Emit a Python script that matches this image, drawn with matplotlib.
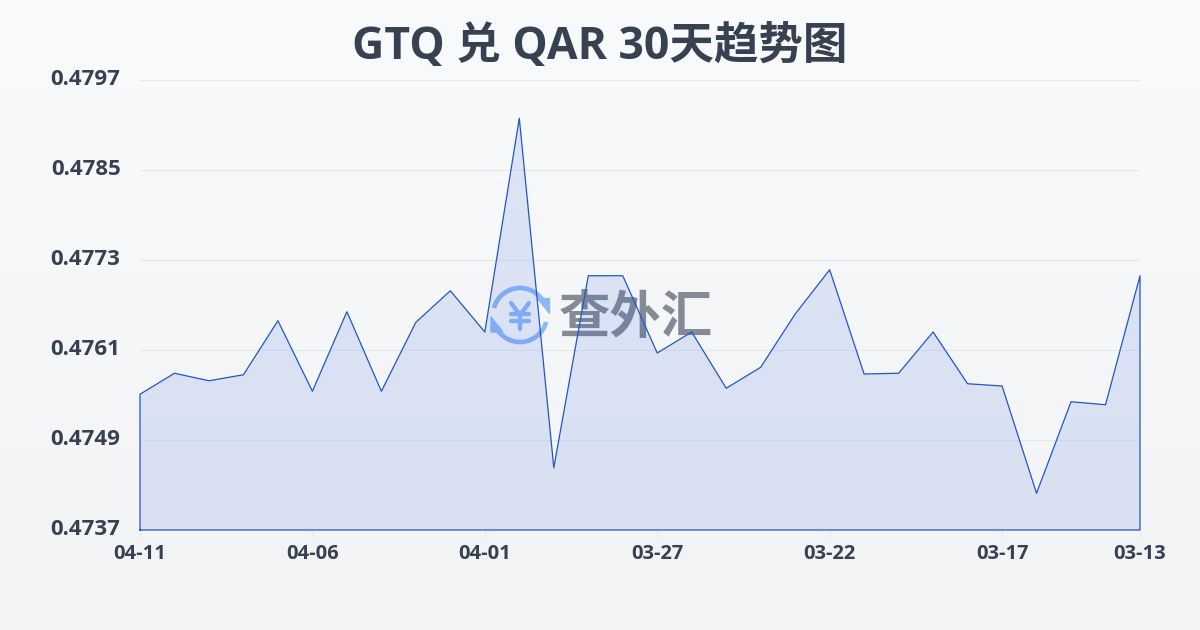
import numpy as np
import matplotlib
matplotlib.use('Agg')
import matplotlib.pyplot as plt
from matplotlib.patches import Arc, Polygon
from matplotlib.transforms import ScaledTranslation

plt.rcParams['font.family'] = ['Open Sans', 'Noto Sans CJK SC', 'DejaVu Sans']

title = 'GTQ 兑 QAR 30天趋势图'
watermark = '查外汇'
dates = ['04-11', '04-10', '04-09', '04-08', '04-07', '04-06', '04-05', '04-04', '04-03', '04-02',
         '04-01', '03-31', '03-30', '03-29', '03-28', '03-27', '03-26', '03-25', '03-24', '03-23',
         '03-22', '03-21', '03-20', '03-19', '03-18', '03-17', '03-16', '03-15', '03-14', '03-13']
rates = [0.47551, 0.47579, 0.47569, 0.47577, 0.47649, 0.47555, 0.47661, 0.47555, 0.47647, 0.47689,
         0.47634, 0.47919, 0.47453, 0.47709, 0.47709, 0.47606, 0.47634, 0.47559, 0.47587, 0.47658,
         0.47717, 0.47578, 0.47579, 0.47634, 0.47565, 0.47562, 0.47419, 0.47541, 0.47537, 0.47709]
y_ticks = [0.4737, 0.4749, 0.4761, 0.4773, 0.4785, 0.4797]
x_tick_idx = [0, 5, 10, 15, 20, 25, 29]

W, H = 1200, 630
TEXT = '#374151'
LINE = '#2257c4'

fig = plt.figure(figsize=(W / 100, H / 100), dpi=100)

# background gradient, also used for the watermark in pixel coords
bg = fig.add_axes([0, 0, 1, 1], zorder=0)
grad = np.linspace(0, 1, 256).reshape(-1, 1, 1)
top = np.array([0xf8, 0xfa, 0xfc]).reshape(1, 1, 3) / 255
bot = np.array([0xf2, 0xf3, 0xf5]).reshape(1, 1, 3) / 255
bg.imshow(top + (bot - top) * grad, extent=[0, W, H, 0], aspect='auto')
bg.set_xlim(0, W)
bg.set_ylim(H, 0)
bg.axis('off')

# logo: two arcs with arrow heads and a yen sign
BLUE = '#8fb8f8'
bg.add_patch(Arc((520, 315), 54, 54, theta1=195, theta2=335, color=BLUE, lw=3.4, zorder=2))
bg.add_patch(Arc((520, 315), 54, 54, theta1=15, theta2=155, color=BLUE, lw=3.4, zorder=2))
bg.add_patch(Polygon([[537, 298], [549, 298], [549, 313]], color=BLUE, zorder=2))
bg.add_patch(Polygon([[491, 317], [503, 332], [491, 332]], color=BLUE, zorder=2))
for xs, ys in [([511, 520, 529], [303, 315, 303]), ([520, 520], [315, 329]),
               ([511, 529], [314, 314]), ([511, 529], [321, 321])]:
    bg.plot(xs, ys, color=BLUE, lw=3.2, solid_capstyle='round', zorder=2)
bg.text(636, 320, watermark, fontsize=37, fontweight='bold', color='#858a94', ha='center',
        va='center', zorder=2)

bg.text(600, 48, title, fontsize=32, fontweight='bold', color=TEXT, ha='center', va='center')

ax = fig.add_axes([140 / W, 1 - 530 / H, 1000 / W, 450 / H], zorder=1)
ax.patch.set_alpha(0)
x = np.arange(len(rates))
ax.fill_between(x, rates, y_ticks[0], facecolor='#2860dc', alpha=0.13, lw=0, zorder=2)
ax.plot(np.r_[x[0], x, x[-1], x[0]], np.r_[y_ticks[0], rates, y_ticks[0], y_ticks[0]],
        color=LINE, lw=0.9, zorder=3, clip_on=False)

ax.set_xlim(0, len(rates) - 1)
ax.set_ylim(y_ticks[0], y_ticks[-1])
ax.set_yticks(y_ticks)
ax.set_yticklabels([f'{v:.4f}' for v in y_ticks], fontsize=16, fontweight='bold', color=TEXT)
ax.set_xticks(x_tick_idx)
ax.set_xticklabels([dates[i] for i in x_tick_idx], fontsize=14.5, fontweight='bold', color=TEXT)

ax.grid(axis='y', color='#e5e7eb', lw=0.8, zorder=1)
ax.tick_params(axis='y', length=0, pad=14)
ax.tick_params(axis='x', length=5, width=0.8, color='#e5e7eb', pad=5)
# y labels sit a little above their grid lines
for lab in ax.get_yticklabels():
    lab.set_transform(lab.get_transform() + ScaledTranslation(0, 2 / 72, fig.dpi_scale_trans))
for s in ax.spines.values():
    s.set_visible(False)

fig.savefig('out.png', dpi=100)
